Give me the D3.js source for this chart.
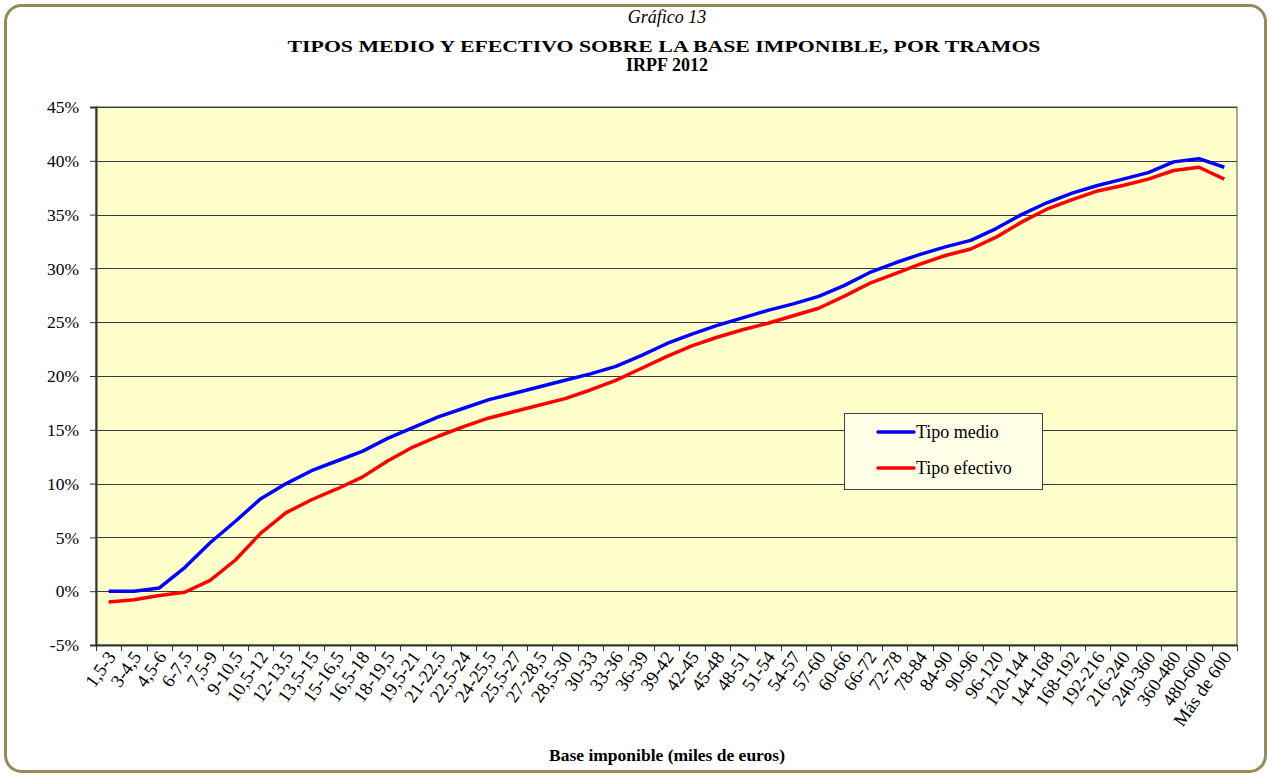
<!DOCTYPE html>
<html>
<head>
<meta charset="utf-8">
<script src="https://cdn.jsdelivr.net/npm/d3@7"></script>
<style>
  body { margin: 0; background: #fff; }
  svg text { font-family: "Liberation Serif", "Times New Roman", serif; fill: #000; }
</style>
</head>
<body>
<svg id="chart" width="1271" height="776"></svg>
<script>
// Tramos de base imponible (miles de euros)
var tramos = ["1,5-3", "3-4,5", "4,5-6", "6-7,5", "7,5-9", "9-10,5", "10,5-12", "12-13,5",
  "13,5-15", "15-16,5", "16,5-18", "18-19,5", "19,5-21", "21-22,5", "22,5-24", "24-25,5",
  "25,5-27", "27-28,5", "28,5-30", "30-33", "33-36", "36-39", "39-42", "42-45", "45-48",
  "48-51", "51-54", "54-57", "57-60", "60-66", "66-72", "72-78", "78-84", "84-90", "90-96",
  "96-120", "120-144", "144-168", "168-192", "192-216", "216-240", "240-360", "360-480",
  "480-600", "Más de 600"];

// valores en %
var tipoMedio = [0.0, 0.0, 0.3, 2.2, 4.5, 6.5, 8.6, 10.0, 11.2, 12.1, 13.0, 14.2, 15.2, 16.2,
  17.0, 17.8, 18.4, 19.0, 19.6, 20.2, 20.9, 21.9, 23.0, 23.9, 24.7, 25.4, 26.1, 26.7, 27.4,
  28.4, 29.6, 30.5, 31.3, 32.0, 32.6, 33.7, 35.0, 36.1, 37.0, 37.7, 38.3, 38.9, 39.9, 40.2, 39.4];

var tipoEfectivo = [-1.0, -0.8, -0.4, -0.1, 1.0, 2.9, 5.4, 7.3, 8.5, 9.5, 10.6, 12.1, 13.4,
  14.4, 15.3, 16.1, 16.7, 17.3, 17.9, 18.7, 19.6, 20.7, 21.8, 22.8, 23.6, 24.3, 24.9, 25.6,
  26.3, 27.4, 28.6, 29.5, 30.4, 31.2, 31.8, 32.9, 34.3, 35.5, 36.4, 37.2, 37.7, 38.3, 39.1,
  39.4, 38.3];

var yTicks = [-5, 0, 5, 10, 15, 20, 25, 30, 35, 40, 45];

var series = [
  { name: "Tipo medio", values: tipoMedio, color: "#0000ff" },
  { name: "Tipo efectivo", values: tipoEfectivo, color: "#ff0000" }
];

var svg = d3.select("#chart");
// limites del area de trazado
var pLeft = 96, pRight = 1237, pTop = 107, pBottom = 645;

// marco exterior
svg.append("rect")
  .attr("x", 5.5).attr("y", 5.5)
  .attr("width", 1260).attr("height", 766)
  .attr("rx", 16).attr("ry", 16)
  .attr("fill", "#fff")
  .attr("stroke", "#968a58")
  .attr("stroke-width", 3);

// titulos
svg.append("text").attr("x", 667).attr("y", 23)
  .attr("text-anchor", "middle").attr("font-style", "italic").attr("font-size", 18)
  .text("Gráfico 13");
svg.append("text").attr("x", 664).attr("y", 52)
  .attr("text-anchor", "middle").attr("font-weight", "bold").attr("font-size", 17)
  .attr("textLength", 753).attr("lengthAdjust", "spacingAndGlyphs")
  .text("TIPOS MEDIO Y EFECTIVO SOBRE LA BASE IMPONIBLE, POR TRAMOS");
svg.append("text").attr("x", 667).attr("y", 71)
  .attr("text-anchor", "middle").attr("font-weight", "bold").attr("font-size", 18)
  .text("IRPF 2012");

var x = d3.scaleBand().domain(tramos).range([pLeft, pRight]);
var y = d3.scaleLinear().domain([-5, 45]).range([pBottom, pTop]);

// fondo del grafico
svg.append("rect")
  .attr("x", pLeft).attr("y", pTop)
  .attr("width", pRight - pLeft).attr("height", pBottom - pTop)
  .attr("fill", "#ffffcc")
  .attr("stroke", "#555")
  .attr("stroke-width", 1);

// lineas de division
svg.append("g").selectAll("line")
  .data(yTicks)
  .enter().append("line")
    .attr("x1", pLeft).attr("x2", pRight)
    .attr("y1", function(d) { return Math.round(y(d)) + 0.5; })
    .attr("y2", function(d) { return Math.round(y(d)) + 0.5; })
    .attr("stroke", "#3a3a3a")
    .attr("stroke-width", 1);

// eje Y
var yAxis = svg.append("g")
  .attr("transform", "translate(" + pLeft + ",0)")
  .call(d3.axisLeft(y).tickValues(yTicks).tickSize(6).tickPadding(11)
    .tickFormat(function(d) { return d + "%"; }));
yAxis.selectAll("text")
  .attr("font-size", 17.5)
  .attr("font-family", "Liberation Serif")
  .attr("fill", "#000");
yAxis.selectAll("line").attr("stroke", "#333");
yAxis.select(".domain").attr("stroke", "#333").attr("stroke-width", 2);

// eje X
var xTickPos = tramos.map(function(d) { return x(d); }).concat([pRight]);
var xg = svg.append("g");
xg.append("line")
  .attr("x1", pLeft).attr("x2", pRight)
  .attr("y1", pBottom + 0.5).attr("y2", pBottom + 0.5)
  .attr("stroke", "#333").attr("stroke-width", 2);
xg.selectAll("line.tk")
  .data(xTickPos)
  .enter().append("line").attr("class", "tk")
    .attr("x1", function(d) { return Math.round(d) + 0.5; })
    .attr("x2", function(d) { return Math.round(d) + 0.5; })
    .attr("y1", pBottom).attr("y2", pBottom + 6)
    .attr("stroke", "#333");
xg.selectAll("text")
  .data(tramos)
  .enter().append("text")
    .attr("transform", function(d) {
      return "translate(" + (x(d) + x.bandwidth() / 2 + 8) + "," + (pBottom + 12) + ") rotate(-55)";
    })
    .attr("text-anchor", "end")
    .attr("font-size", 18.5)
    .text(function(d) { return d; });

svg.append("text").attr("x", 667).attr("y", 761)
  .attr("text-anchor", "middle").attr("font-weight", "bold").attr("font-size", 17.5)
  .text("Base imponible (miles de euros)");

// series
var line = d3.line()
  .x(function(d, i) { return x(tramos[i]) + x.bandwidth() / 2; })
  .y(function(d) { return y(d); });

svg.append("g").selectAll("path")
  .data(series)
  .enter().append("path")
    .attr("d", function(s) { return line(s.values); })
    .attr("fill", "none")
    .attr("stroke", function(s) { return s.color; })
    .attr("stroke-width", 3.5)
    .attr("stroke-linejoin", "round");

// leyenda
var lg = svg.append("g").attr("transform", "translate(844,413)");
lg.append("rect")
  .attr("x", 0.5).attr("y", 0.5).attr("width", 198).attr("height", 76)
  .attr("fill", "#ffffe8").attr("stroke", "#444");
series.forEach(function(s, i) {
  var ly = 19 + i * 36;
  lg.append("line")
    .attr("x1", 34).attr("x2", 70).attr("y1", ly).attr("y2", ly)
    .attr("stroke", s.color).attr("stroke-width", 3.5).attr("stroke-linecap", "round");
  lg.append("text")
    .attr("x", 72).attr("y", ly + 6)
    .attr("font-size", 18)
    .text(s.name);
});
</script>
</body>
</html>
